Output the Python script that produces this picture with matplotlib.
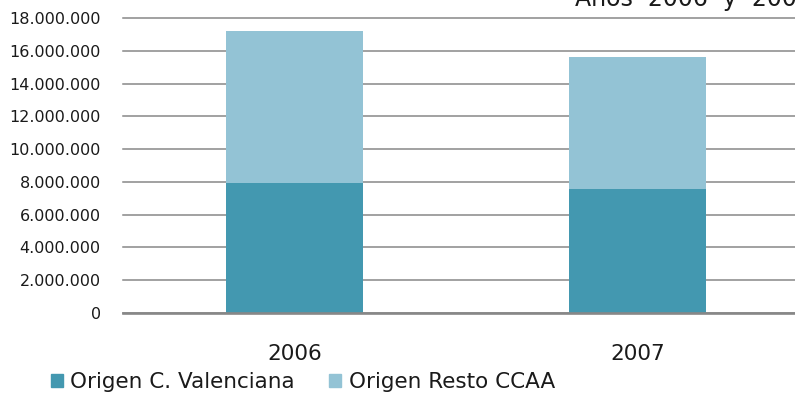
import matplotlib.pyplot as plt
from matplotlib.patches import Patch

# Data
years = ["2006", "2007"]
valenciana = [7930000, 7570000]
resto = [9280000, 8050000]
yticks = [0, 2000000, 4000000, 6000000, 8000000, 10000000,
          12000000, 14000000, 16000000, 18000000]
ytick_labels = ["0", "2.000.000", "4.000.000", "6.000.000", "8.000.000",
                "10.000.000", "12.000.000", "14.000.000", "16.000.000",
                "18.000.000"]

dark = "#4398b0"
light = "#93c3d5"
grid_col = "#878787"

fig = plt.figure(figsize=(7.95, 4.03), dpi=100)
# axes reaches past the right edge like the cropped original
ax = fig.add_axes([123 / 795, 90 / 403, 686 / 795, 295 / 403])

x = list(range(len(years)))
ax.bar(x, valenciana, width=0.4, color=dark, zorder=2)
ax.bar(x, resto, width=0.4, bottom=valenciana, color=light, zorder=2)

ax.set_xlim(-0.5, 1.5)
ax.set_ylim(0, 18000000)
ax.set_yticks(yticks, labels=ytick_labels)
ax.set_xticks(x, labels=years)
ax.tick_params(axis="y", length=0, pad=16, labelsize=11.5, colors="#1a1a1a")
ax.tick_params(axis="x", length=0, pad=22, labelsize=15.5, colors="#1a1a1a")

ax.grid(axis="y", color=grid_col, linewidth=1.1, zorder=1)
for gl in ax.yaxis.get_gridlines():
    gl.set_clip_on(False)
for s in ["top", "right", "left"]:
    ax.spines[s].set_visible(False)
ax.spines["bottom"].set_color(grid_col)
ax.spines["bottom"].set_linewidth(1.9)
ax.spines["bottom"].set_zorder(3)

# title, cropped at the top right in the original
fig.text(575 / 795, 397 / 403, "Años  2006  y  2007", fontsize=17,
         color="#1a1a1a", ha="left", va="baseline")

handles = [Patch(color=dark), Patch(color=light)]
fig.legend(handles, ["Origen C. Valenciana", "Origen Resto CCAA"],
           loc="center left", bbox_to_anchor=(40 / 795, 21 / 403),
           ncol=2, frameon=False, fontsize=15.5, borderpad=0,
           handlelength=0.55, handleheight=0.55, handletextpad=0.35,
           columnspacing=1.6, labelcolor="#1a1a1a")

plt.savefig("out.png", dpi=100)
